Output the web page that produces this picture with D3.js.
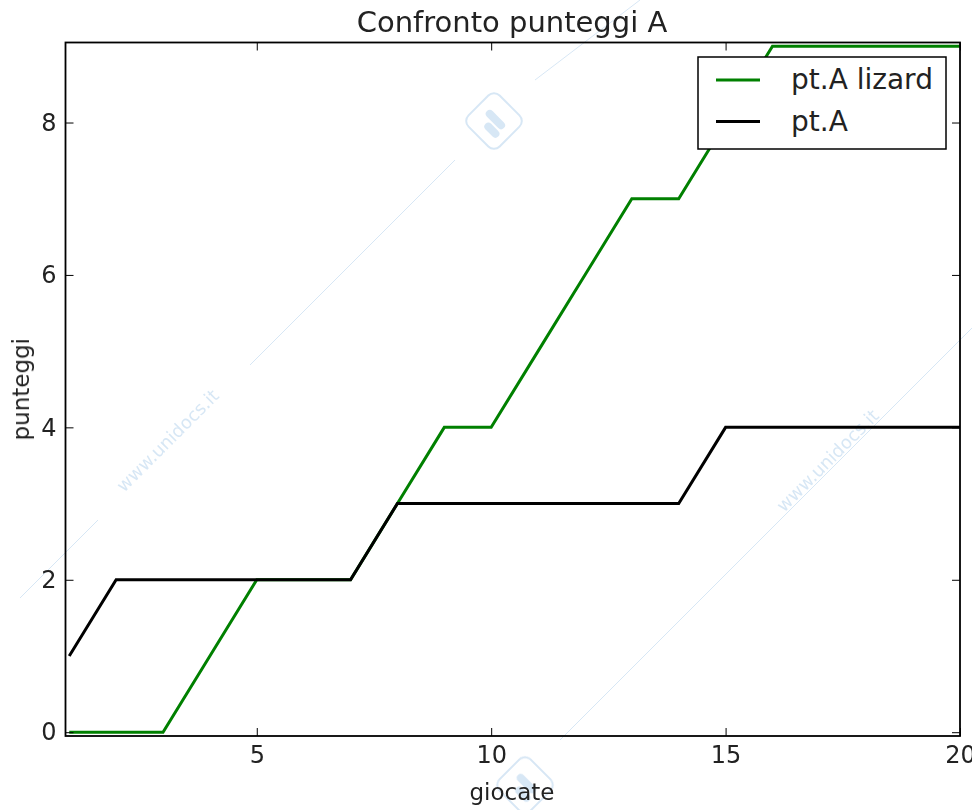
<!DOCTYPE html>
<html>
  <head>
    <meta charset="utf-8">
    <style>
      body { margin: 0; background: #fff; }
      text { font-family: "DejaVu Sans", sans-serif; }
    </style>
    <script src="https://d3js.org/d3.v7.min.js"></script>
  </head>
  <body>
    <svg></svg>
    <script>
    // data
    var giocate = d3.range(1, 21);
    var ptLizard = [0, 0, 0, 1, 2, 2, 2, 3, 4, 4, 5, 6, 7, 7, 8, 9, 9, 9, 9, 9];
    var ptA = [1, 2, 2, 2, 2, 2, 2, 3, 3, 3, 3, 3, 3, 3, 4, 4, 4, 4, 4, 4];
    var xTicks = [5, 10, 15, 20];
    var yTicks = [0, 2, 4, 6, 8];
    var seriesNames = ["pt.A lizard", "pt.A"];
    var seriesColors = ["#008000", "#000000"];

    var svg = d3.select("svg")
        .attr("width", 972)
        .attr("height", 810);

    var mLeft = 65.5, mRight = 960, mTop = 42.5, mBottom = 736;

    var x = d3.scaleLinear().domain([0.92, 20]).range([mLeft, mRight]);
    var y = d3.scaleLinear().domain([-0.05, 9.05]).range([mBottom, mTop]);

    // watermark
    var wm = svg.append("g").attr("opacity", 0.4);
    [[20, 598, 98, 520], [250, 365, 455, 160], [535, 80, 640, 0],
     [560, 740, 972, 328]].forEach(function(l) {
        wm.append("line")
            .attr("x1", l[0]).attr("y1", l[1]).attr("x2", l[2]).attr("y2", l[3])
            .attr("stroke", "#9cc3e6").attr("stroke-width", 1);
    });
    [[172, 445], [832, 465]].forEach(function(p) {
        wm.append("text")
            .attr("transform", "translate(" + p[0] + "," + p[1] + ") rotate(-45)")
            .attr("text-anchor", "middle")
            .attr("font-size", 18)
            .attr("fill", "#9cc3e6")
            .text("www.unidocs.it");
    });
    [[494, 121], [525, 785]].forEach(function(p) {
        var g = wm.append("g").attr("transform", "translate(" + p[0] + "," + p[1] + ") rotate(45)");
        g.append("rect").attr("x", -22).attr("y", -22).attr("width", 44).attr("height", 44)
            .attr("rx", 8).attr("fill", "none").attr("stroke", "#9cc3e6").attr("stroke-width", 2);
        g.append("rect").attr("x", -12).attr("y", -6).attr("width", 24).attr("height", 8)
            .attr("rx", 4).attr("fill", "#9cc3e6");
        g.append("rect").attr("x", -4).attr("y", 4).attr("width", 18).attr("height", 8)
            .attr("rx", 4).attr("fill", "#9cc3e6");
    });

    svg.append("clipPath").attr("id", "clip")
      .append("rect")
        .attr("x", mLeft).attr("y", mTop - 2)
        .attr("width", mRight - mLeft).attr("height", mBottom - mTop + 2);

    var line = d3.line()
        .x(function(d, i) { return x(giocate[i]); })
        .y(function(d) { return y(d); });

    var plot = svg.append("g").attr("clip-path", "url(#clip)");
    [ptLizard, ptA].forEach(function(s, i) {
        plot.append("path")
            .datum(s)
            .attr("fill", "none")
            .attr("stroke", seriesColors[i])
            .attr("stroke-width", 3)
            .attr("d", line);
    });

    // axes (ticks inside on all four sides)
    var tl = 8;
    svg.append("g")
        .attr("transform", "translate(0," + mBottom + ")")
        .call(d3.axisBottom(x).tickValues(xTicks).tickSizeInner(-tl).tickSizeOuter(0).tickPadding(10))
        .call(function(g) { g.select(".domain").remove(); });
    svg.append("g")
        .attr("transform", "translate(0," + mTop + ")")
        .call(d3.axisTop(x).tickValues(xTicks).tickSizeInner(-tl).tickSizeOuter(0).tickFormat(""))
        .call(function(g) { g.select(".domain").remove(); });
    svg.append("g")
        .attr("transform", "translate(" + mLeft + ",0)")
        .call(d3.axisLeft(y).tickValues(yTicks).tickSizeInner(-tl).tickSizeOuter(0).tickPadding(9))
        .call(function(g) { g.select(".domain").remove(); });
    svg.append("g")
        .attr("transform", "translate(" + mRight + ",0)")
        .call(d3.axisRight(y).tickValues(yTicks).tickSizeInner(-tl).tickSizeOuter(0).tickFormat(""))
        .call(function(g) { g.select(".domain").remove(); });

    svg.selectAll(".tick line").attr("stroke", "#000").attr("stroke-width", 1);
    svg.selectAll(".tick text")
        .attr("font-size", 24)
        .attr("font-family", "DejaVu Sans, sans-serif")
        .attr("fill", "#222");

    svg.append("rect")
        .attr("x", mLeft).attr("y", mTop)
        .attr("width", mRight - mLeft).attr("height", mBottom - mTop)
        .attr("fill", "none")
        .attr("stroke", "#000")
        .attr("stroke-width", 1.8);

    // labels
    svg.append("text")
        .attr("x", 512).attr("y", 32)
        .attr("text-anchor", "middle")
        .attr("font-size", 29)
        .attr("fill", "#222")
        .text("Confronto punteggi A");
    svg.append("text")
        .attr("x", 512).attr("y", 800)
        .attr("text-anchor", "middle")
        .attr("font-size", 23)
        .attr("fill", "#222")
        .text("giocate");
    svg.append("text")
        .attr("transform", "translate(29," + ((mTop + mBottom) / 2) + ") rotate(-90)")
        .attr("text-anchor", "middle")
        .attr("font-size", 23)
        .attr("fill", "#222")
        .text("punteggi");

    // legend
    var lg = svg.append("g").attr("transform", "translate(698,57)");
    lg.append("rect")
        .attr("width", 248).attr("height", 92)
        .attr("fill", "#fff")
        .attr("stroke", "#000")
        .attr("stroke-width", 1.5);
    seriesNames.forEach(function(n, i) {
        var yy = 23 + i * 41.5;
        lg.append("line")
            .attr("x1", 18).attr("x2", 62).attr("y1", yy).attr("y2", yy)
            .attr("stroke", seriesColors[i]).attr("stroke-width", 3);
        lg.append("text")
            .attr("x", 93).attr("y", yy + 9)
            .attr("font-size", 28)
            .attr("fill", "#222")
            .text(n);
    });
    </script>
  </body>
</html>
